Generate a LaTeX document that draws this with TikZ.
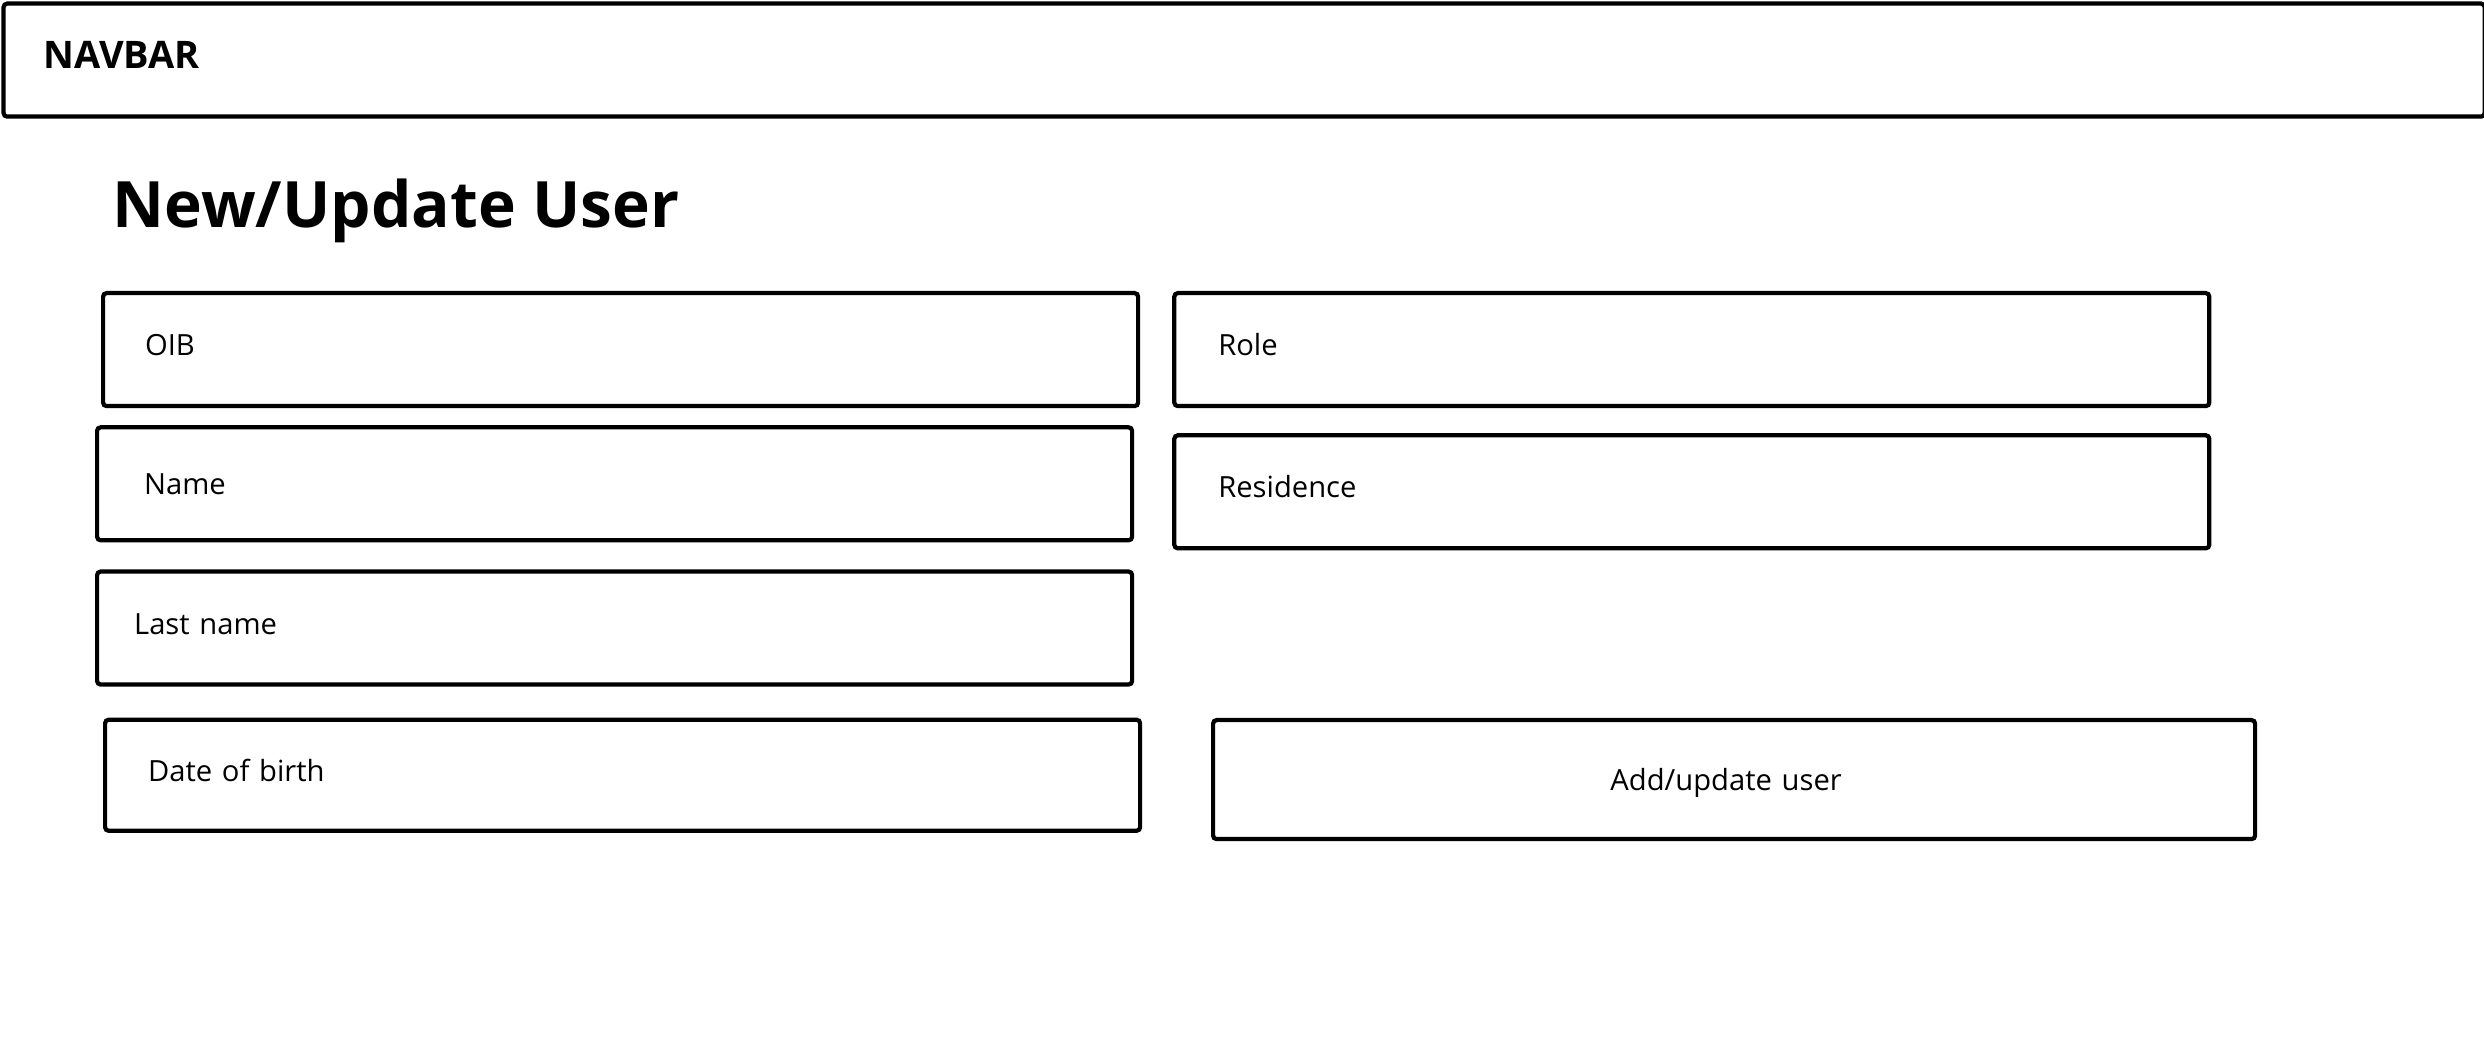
\documentclass[tikz,border=0pt]{standalone}
\usepackage{fontspec}
\setmainfont{Open Sans}
\usetikzlibrary{positioning}
\tikzset{
  %define style for the input fields
  field/.style={
    rectangle,
    rounded corners=1pt,
    draw=black, line width=1.2pt,
    minimum width=10.35cm,
    minimum height=1.13cm,
    text width=9.45cm,
    inner xsep=0.45cm,
    text height=6pt, text depth=2.6pt,
    align=left,
    font=\fontsize{8.3}{10}\selectfont,
    anchor=north west},
  %define style for the button
  button/.style={
    field,
    minimum width=10.42cm,
    minimum height=1.19cm,
    text depth=0pt,
    align=center},
  %define style for the headings
  heading/.style={
    inner sep=0pt,
    anchor=base west,
    font=\bfseries}
}
\begin{document}
\begin{tikzpicture}
\useasboundingbox (0,0) rectangle (24.84,-10.40);
%navbar
\node[draw=black, line width=1.2pt, rounded corners=1pt, minimum width=24.81cm,
      minimum height=1.13cm, anchor=north west, inner sep=0pt] (navbar) at (0.015,-0.015) {};
\node[heading, font=\bfseries\fontsize{10.8}{13}\selectfont] (navtitle) at (0.43,-0.69) {NAVBAR};
\node[heading, font=\bfseries\fontsize{18.2}{22}\selectfont] (title) at (1.12,-2.28) {New/Update User};

%fields, left column
\node[field, inner xsep=0.42cm, text width=9.51cm] (oib) at (1.01,-2.91) {OIB};
\node[field, below=0.17cm of oib.south west, anchor=north west, xshift=-0.06cm,
      inner xsep=0.47cm, text width=9.41cm, text depth=0pt] (name) {Name};
\node[field, below=0.27cm of name.south west, anchor=north west,
      inner xsep=0.37cm, text width=9.61cm] (lastname) {Last name};
\node[field, below=0.31cm of lastname.south west, anchor=north west, xshift=0.08cm,
      inner xsep=0.43cm, text width=9.49cm, minimum height=1.11cm] (birth) {Date of birth};

%fields, right column
\node[field, right=0.32cm of oib.north east, anchor=north west,
      inner xsep=0.44cm, text width=9.47cm] (role) {Role};
\node[field, below=0.25cm of role.south west, anchor=north west,
      inner xsep=0.44cm, text width=9.47cm] (residence) {Residence};

%button
\node[button] (submit) at (12.11,-7.18) {Add/update user\kern0.16cm};

\end{tikzpicture}
\end{document}
